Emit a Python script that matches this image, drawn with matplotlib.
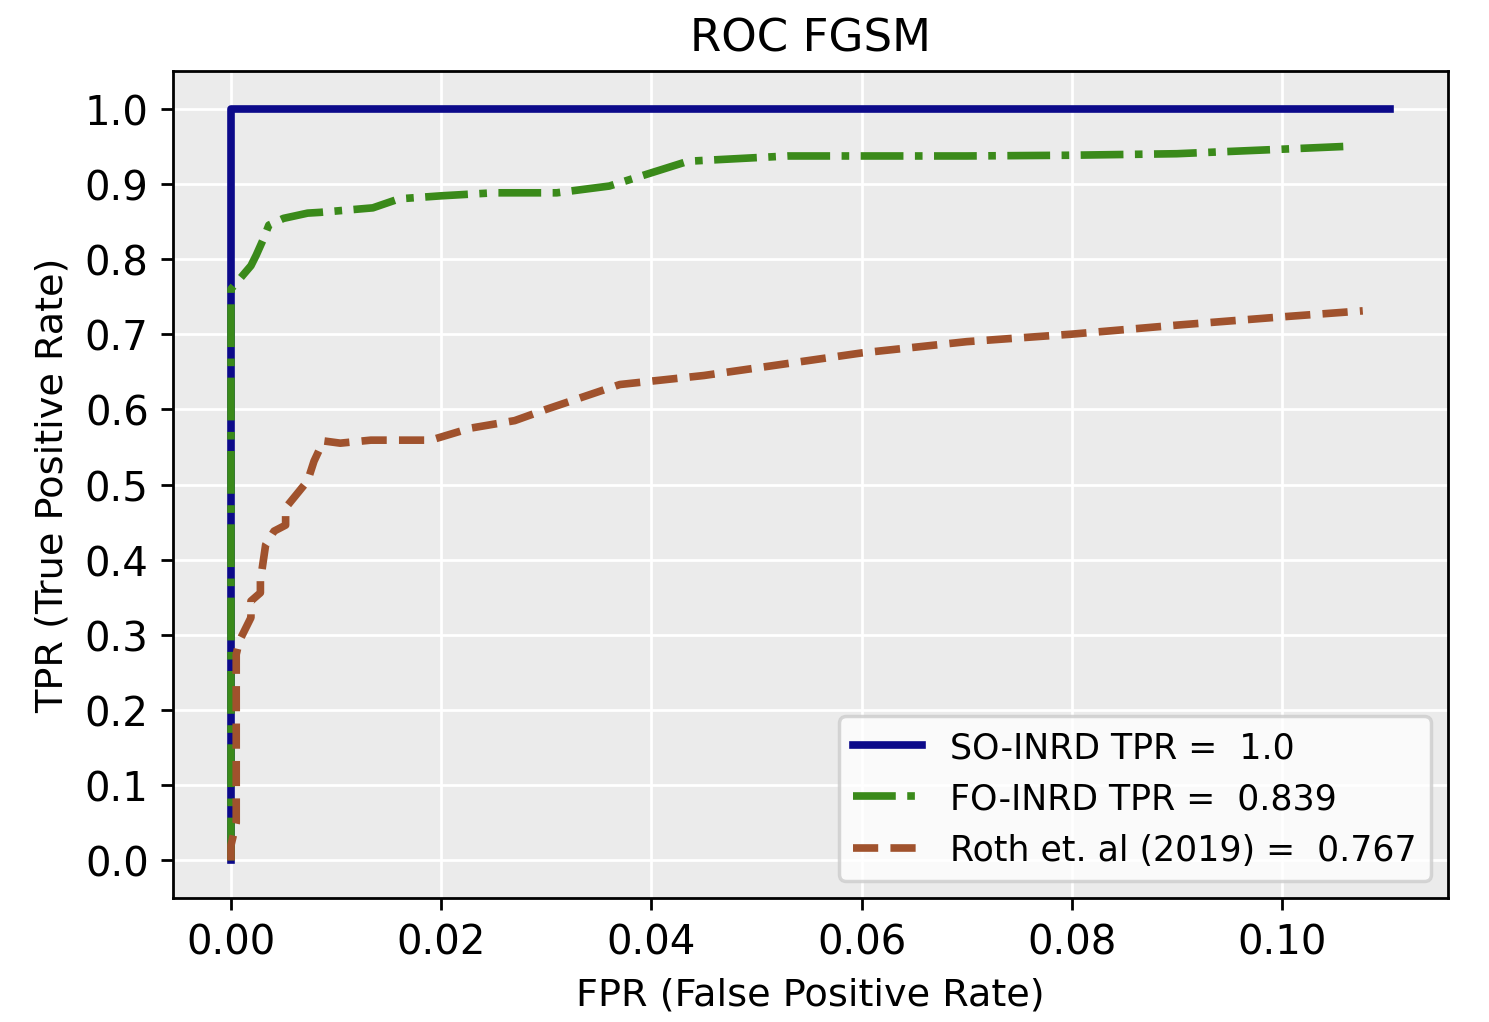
import numpy as np
import matplotlib
matplotlib.use("Agg")
import matplotlib.pyplot as plt

# ROC points
so_fpr = [0.0, 0.0, 0.1103]
so_tpr = [0.0, 1.0, 1.0]

fo_fpr = [0.0, 0.0, 0.0005, 0.0019, 0.0024, 0.0031, 0.0036, 0.005, 0.0073, 0.0085,
          0.0135, 0.016, 0.02, 0.025, 0.031, 0.036, 0.0435, 0.053, 0.06, 0.07,
          0.08, 0.09, 0.1, 0.1065]
fo_tpr = [0.0, 0.76, 0.768, 0.791, 0.805, 0.827, 0.845, 0.854, 0.861, 0.862,
          0.868, 0.88, 0.884, 0.888, 0.888, 0.897, 0.93, 0.937, 0.937, 0.937,
          0.938, 0.94, 0.946, 0.95]

roth_fpr = [0.0, 0.0, 0.0005, 0.0005, 0.0008, 0.0019, 0.0019, 0.0028, 0.0028, 0.0033,
            0.0041, 0.0052, 0.0052, 0.0073, 0.0079, 0.0088, 0.0104, 0.0133, 0.019,
            0.0228, 0.027, 0.03, 0.037, 0.045, 0.05, 0.06, 0.07, 0.08, 0.09, 0.1, 0.1077]
roth_tpr = [0.0, 0.02, 0.05, 0.274, 0.292, 0.323, 0.345, 0.356, 0.372, 0.42,
            0.438, 0.446, 0.469, 0.505, 0.531, 0.558, 0.555, 0.559, 0.559,
            0.575, 0.585, 0.6, 0.633, 0.645, 0.655, 0.675, 0.69, 0.70, 0.712, 0.723, 0.731]

labels = ["SO-INRD TPR =  1.0", "FO-INRD TPR =  0.839", "Roth et. al (2019) =  0.767"]

plt.rcParams['font.size'] = 11

fig = plt.figure(figsize=(1489 / 250, 1023 / 250), dpi=250)
ax = fig.add_axes([0.1162, 0.1212, 0.8563, 0.8084])
ax.set_facecolor('#EBEBEB')
ax.grid(True, color='white', linewidth=0.8)
ax.set_axisbelow(True)

ax.plot(so_fpr, so_tpr, color='#0C0A8A', linewidth=2.2, label=labels[0])
ax.plot(fo_fpr, fo_tpr, color='#3A8A1A', linewidth=2.2, linestyle=(0, (5.6, 1.5, 1, 1.5)),
        label=labels[1])
ax.plot(roth_fpr, roth_tpr, color='#A0522D', linewidth=2.2, linestyle=(0, (3.3, 1.6)),
        label=labels[2])

ax.set_yticks(np.arange(0, 1.01, 0.1))
ax.tick_params(labelsize=11.6)
ax.set_xlabel('FPR (False Positive Rate)')
ax.set_ylabel('TPR (True Positive Rate)')
ax.set_title('ROC FGSM', fontsize=13)
ax.legend(loc='lower right', fontsize=10)

fig.savefig('out.png', dpi=250)
